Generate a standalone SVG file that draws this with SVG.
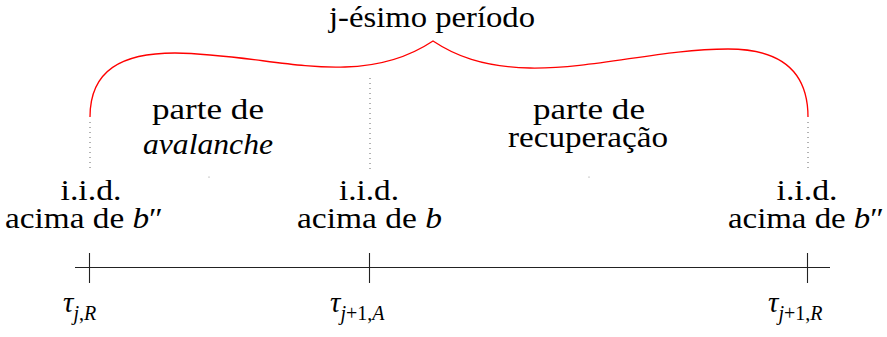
<svg xmlns="http://www.w3.org/2000/svg" width="887" height="337" viewBox="0 0 887 337">
<style>
text{font-size:29px;fill:#000}
.c{text-anchor:middle}
.it{font-style:italic}
.rm{font-style:normal}
.sub{font-size:20px}
.dot{stroke:#666;stroke-width:1;stroke-dasharray:1 4;fill:none}
.axis{stroke:#222;stroke-width:1.1;fill:none}
.brace{stroke:#ff0000;stroke-width:1.3;fill:none}
</style>
<rect width="887" height="337" fill="#fff"/>
<g id="brace">
<path class="brace" d="M90,117 C90,70 122,53 175,53 C240,54 295,69 345,67 C385,66 412,55 433,41 C454,55 482,67 530,68 C595,69 660,49 728,49 C780,49 808,70 808,117"/>
<text class="c" x="432" y="27" font-family="Liberation Serif, serif" textLength="206" lengthAdjust="spacingAndGlyphs">j-ésimo período</text>
</g>
<g id="connectors">
<line class="dot" x1="90" y1="122" x2="90" y2="171"/>
<line class="dot" x1="370" y1="78" x2="370" y2="171"/>
<line class="dot" x1="808" y1="122" x2="808" y2="171"/>
<line class="axis" x1="75" y1="267.5" x2="830" y2="267.5"/>
<line class="axis" x1="89.5" y1="253" x2="89.5" y2="283"/>
<line class="axis" x1="369.5" y1="253" x2="369.5" y2="283"/>
<line class="axis" x1="807.5" y1="253" x2="807.5" y2="283"/>
</g>
<g id="avalanche">
<text class="c" x="208" y="119" font-family="Liberation Serif, serif" textLength="112" lengthAdjust="spacingAndGlyphs">parte de</text>
<text class="c it" x="208" y="154" font-family="Liberation Serif, serif" textLength="130" lengthAdjust="spacingAndGlyphs">avalanche</text>
<circle cx="209" cy="177" r="0.6" fill="#888"/>
</g>
<g id="recuperacao">
<text class="c" x="589" y="119" font-family="Liberation Serif, serif" textLength="112" lengthAdjust="spacingAndGlyphs">parte de</text>
<text class="c" x="588" y="147" font-family="Liberation Serif, serif" textLength="160" lengthAdjust="spacingAndGlyphs">recuperação</text>
<circle cx="589" cy="177" r="0.6" fill="#888"/>
</g>
<g id="node-left">
<text class="c" x="91" y="200" font-family="Liberation Serif, serif" textLength="61" lengthAdjust="spacingAndGlyphs">i.i.d.</text>
<text class="c" x="84" y="228" font-family="Liberation Serif, serif" textLength="158" lengthAdjust="spacingAndGlyphs">acima de <tspan class="it">b</tspan>″</text>
<text x="63" y="312" class="it" font-family="Liberation Serif, serif">τ<tspan class="sub" dy="8">j</tspan><tspan class="sub rm">,</tspan><tspan class="sub">R</tspan></text>
</g>
<g id="node-mid">
<text class="c" x="369" y="200" font-family="Liberation Serif, serif" textLength="60" lengthAdjust="spacingAndGlyphs">i.i.d.</text>
<text class="c" x="369.5" y="228" font-family="Liberation Serif, serif" textLength="145" lengthAdjust="spacingAndGlyphs">acima de <tspan class="it">b</tspan></text>
<text x="330" y="312" class="it" font-family="Liberation Serif, serif">τ<tspan class="sub" dy="8">j</tspan><tspan class="sub rm">+1,</tspan><tspan class="sub">A</tspan></text>
</g>
<g id="node-right">
<text class="c" x="807" y="200" font-family="Liberation Serif, serif" textLength="61" lengthAdjust="spacingAndGlyphs">i.i.d.</text>
<text class="c" x="806" y="228" font-family="Liberation Serif, serif" textLength="156" lengthAdjust="spacingAndGlyphs">acima de <tspan class="it">b</tspan>″</text>
<text x="768" y="312" class="it" font-family="Liberation Serif, serif">τ<tspan class="sub" dy="8">j</tspan><tspan class="sub rm">+1,</tspan><tspan class="sub">R</tspan></text>
</g>
</svg>
